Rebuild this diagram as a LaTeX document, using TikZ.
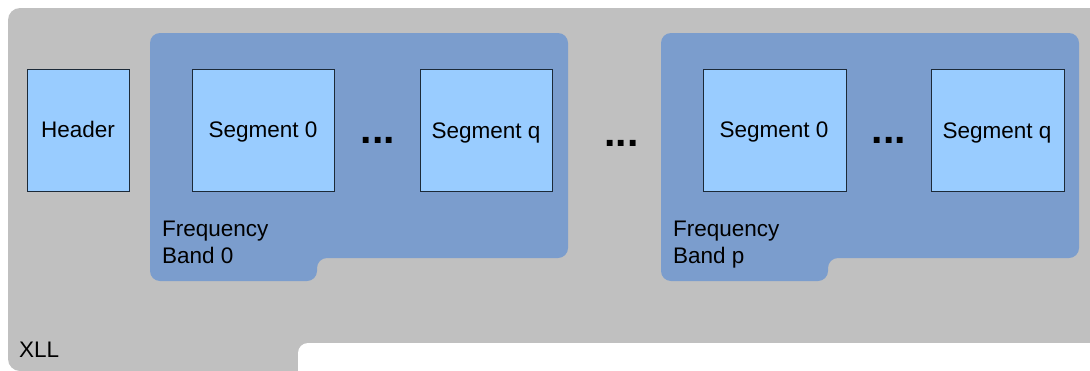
\documentclass[tikz,border=0pt]{standalone}
\usepackage{fontspec}
\setmainfont{Liberation Sans}
\definecolor{xllgray}{HTML}{C0C0C0}
\definecolor{bandblue}{HTML}{7B9DCD}
\definecolor{boxblue}{HTML}{99CCFF}
\definecolor{boxedge}{HTML}{1C2A38}
\begin{document}
\begin{tikzpicture}[x=1pt,y=-1pt,
  segbox/.style={fill=boxblue,draw=boxedge,line width=0.9pt},
  lbl/.style={font=\fontsize{22.5}{27}\selectfont,text=black,inner sep=0pt},
  dots/.style={font=\fontsize{41}{41}\selectfont\bfseries,inner sep=0pt}]
\useasboundingbox (0,0) rectangle (1090,370);
% XLL container
\fill[xllgray,rounded corners=12pt] (8,8) rectangle (1110,371);
\fill[white,rounded corners=10pt] (298,343) rectangle (1110,420);
\node[lbl,anchor=base west] (xll) at (19,357) {XLL};
% Header
\draw[segbox] (27,69) rectangle (129,191);
\node[lbl,anchor=base] (hdr) at (78,137) {Header};
% Band 0
\fill[bandblue,rounded corners=10pt] (150,33) -- (568,33) -- (568,258) -- (317,258) -- (317,281) -- (150,281) -- cycle;
\draw[segbox] (192,69) rectangle (334,191);
\node[lbl,anchor=base] (s00) at (263,137) {Segment 0};
\draw[segbox] (420,69) rectangle (552,191);
\node[lbl,anchor=base] (s0q) at (486,138) {Segment q};
\node[dots,anchor=base] (d0) at (378,143) {...};
\node[lbl,anchor=base west] (b0a) at (162,236) {Frequency};
\node[lbl,anchor=base west] (b0b) at (162,263) {Band 0};
% middle dots
\node[dots,anchor=base] (dm) at (621.5,146.5) {...};
% Band p
\fill[bandblue,rounded corners=10pt] (661,33) -- (1079,33) -- (1079,258) -- (828,258) -- (828,281) -- (661,281) -- cycle;
\draw[segbox] (703,69) rectangle (846,191);
\node[lbl,anchor=base] (sp0) at (774,137) {Segment 0};
\draw[segbox] (931,69) rectangle (1064,191);
\node[lbl,anchor=base] (spq) at (997,138) {Segment q};
\node[dots,anchor=base] (dp) at (889,143) {...};
\node[lbl,anchor=base west] (bpa) at (673,236) {Frequency};
\node[lbl,anchor=base west] (bpb) at (673,263) {Band p};
\end{tikzpicture}
\end{document}
